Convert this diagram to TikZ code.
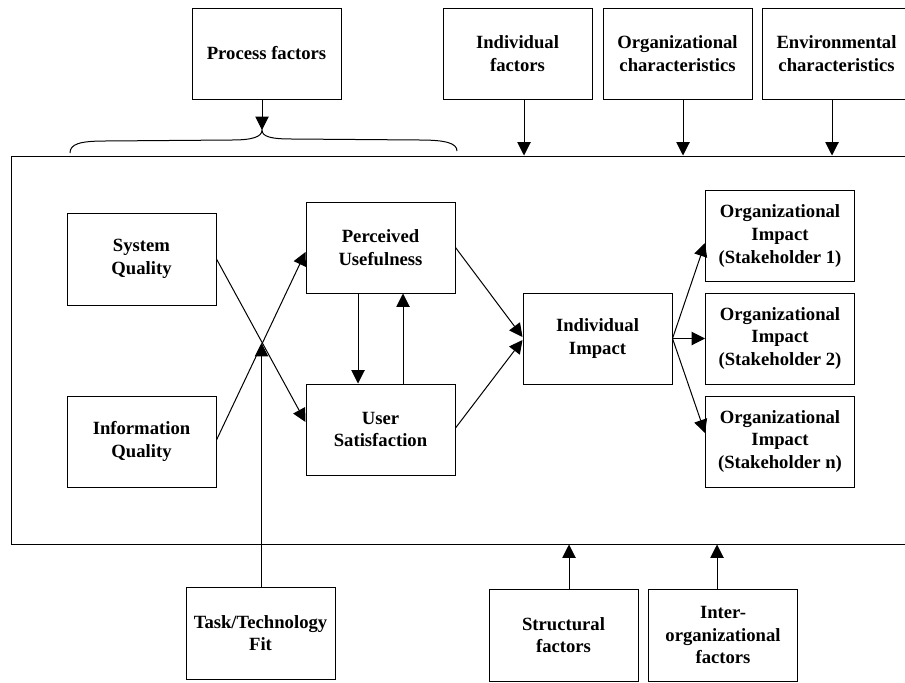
\documentclass[tikz,border=0pt]{standalone}
\usepackage{fontspec}
\setmainfont{Liberation Serif}
\usetikzlibrary{arrows.meta}
\begin{document}
\begin{tikzpicture}[x=0.75pt,y=-0.75pt,
  box/.style={draw, line width=0.75pt, minimum width=111.75pt, minimum height=68.25pt,
    align=center, inner sep=0pt, font=\fontsize{14}{17}\selectfont\bfseries},
  conn/.style={line width=0.75pt, -{Triangle[length=10pt,width=10pt]}},
  plain/.style={line width=0.75pt}]
\useasboundingbox (0,0) rectangle (905,682);
% main frame (right side beyond the page)
\node[draw, line width=0.75pt, minimum width=675pt, minimum height=291pt, inner sep=0pt] (main) at (461,350) {};
% top boxes
\node[box] (proc)  at (266.5,53.5) {Process factors};
\node[box] (indiv) at (517.5,53.5) {Individual\\factors};
\node[box] (orgc)  at (677.5,53.5) {Organizational\\characteristics};
\node[box] (envc)  at (836.5,53.5) {Environmental\\characteristics};
% inner boxes
\node[box, minimum height=69pt] (sysq) at (141.5,259) {System\\Quality};
\node[box] (infq) at (141.5,441.5) {Information\\Quality};
\node[box] (pu)   at (380.5,247.5) {Perceived\\Usefulness};
\node[box] (us)   at (380.5,429.5) {User\\Satisfaction};
\node[box] (ii)   at (597.5,338.5) {Individual\\Impact};
\node[box] (oi1)  at (780,236) {Organizational\\Impact\\(Stakeholder 1)};
\node[box] (oi2)  at (780,338.5) {Organizational\\Impact\\(Stakeholder 2)};
\node[box] (oin)  at (780,441.5) {Organizational\\Impact\\(Stakeholder n)};
% bottom boxes
\node[box, minimum height=69pt] (ttf)   at (260.5,633) {Task/Technology\\Fit};
\node[box, minimum height=69pt] (str)   at (563.5,635) {Structural\\factors};
\node[box, minimum height=69pt] (inter) at (723,635) {Inter-\\organizational\\factors};
% brace under process factors
\coordinate (btip) at (262,130);
\draw[plain] (70,153) .. controls (70,144) and (80,141) .. (105,141)
  -- (232,140) .. controls (252,140) and (262,137) .. (btip)
  .. controls (262,137) and (272,139) .. (292,139)
  -- (420,140) .. controls (445,140) and (457,143) .. (457,151);
\draw[conn] (proc.south -| btip) -- (btip);
% top factor arrows
\draw[conn] (indiv.south -| 524,0) -- (524,0 |- main.north);
\draw[conn] (orgc.south -| 683,0) -- (683,0 |- main.north);
\draw[conn] (envc.south -| 832,0) -- (832,0 |- main.north);
% bottom factor arrows
\draw[conn] (str.north -| 569,0) -- (569,0 |- main.south);
\draw[conn] (inter.north -| 717,0) -- (717,0 |- main.south);
% task/technology fit
\coordinate (cross) at (261.5,343);
\draw[conn] (ttf.north -| cross) -- (cross);
% quality to PU/US
\draw[conn] (sysq.east) -- (us.west |- 0,422);
\draw[conn] (infq.east |- 0,440) -- (pu.west |- 0,252);
% PU <-> US
\draw[conn] (pu.south -| 358,0) -- (us.north -| 358,0);
\draw[conn] (us.north -| 403,0) -- (pu.south -| 403,0);
% to individual impact
\draw[conn] (pu.east) -- (ii.west |- 0,337);
\draw[conn] (us.east |- 0,428) -- (ii.west |- 0,340);
% to organizational impacts
\coordinate (iie) at (ii.east);
\draw[conn] (iie) -- (oi1.west |- 0,243);
\draw[conn] (iie) -- (oi2.west);
\draw[conn] (iie) -- (oin.west |- 0,433);
\end{tikzpicture}
\end{document}
